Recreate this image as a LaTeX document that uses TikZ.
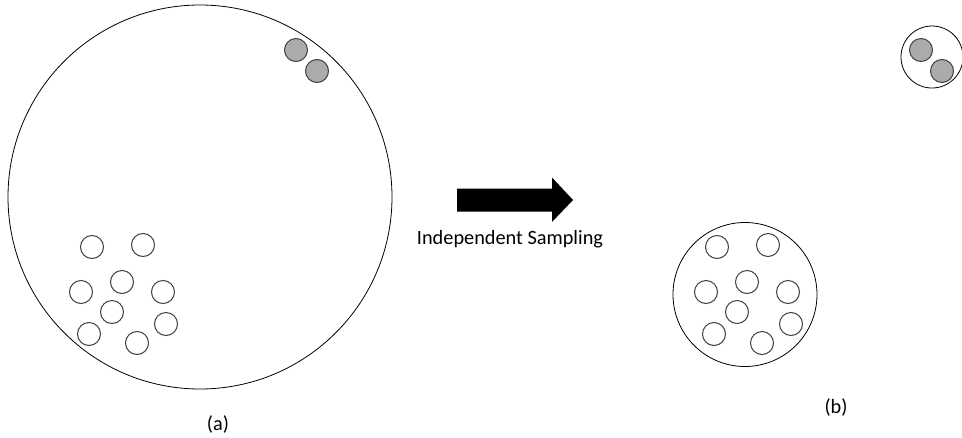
\documentclass[tikz,border=0pt]{standalone}
\usepackage{fontspec}
\setmainfont{Carlito}
\usetikzlibrary{positioning}

\definecolor{ballgray}{RGB}{171,171,171}
\definecolor{rimgray}{RGB}{64,64,64}

\tikzset{
    pool/.style={circle, draw, line width=0.8pt, inner sep=0pt},
    ball/.style={circle, draw=rimgray, line width=1pt, minimum size=23pt, inner sep=0pt, fill=white},
    grayball/.style={ball, fill=ballgray},
    caption/.style={font=\fontsize{20.3}{24}\selectfont}
}

\begin{document}
\begin{tikzpicture}[x=1pt,y=-1pt]
\useasboundingbox (0,0) rectangle (962,437);

% population and the two samples
\node[pool, minimum size=384pt] (P) at (200,197) {};
\node[pool, minimum size=144pt] (W) at (745,294.5) {};
\node[pool, minimum size=62pt] (G) at (932,57) {};

% white and gray balls, same layout in (a) and (b)
\foreach \s/\n in {0/a, 625/b}{
    \foreach \x/\y [count=\i] in {92/247, 143/245, 122/282, 81/292, 163/292,
                                  112/312, 166/324, 89/334, 137/343}
        \node[ball] (\n-w\i) at (\x+\s,\y) {};
    \foreach \x/\y [count=\i] in {296/50, 317/71}
        \node[grayball] (\n-g\i) at (\x+\s,\y) {};
}

% arrow
\coordinate (tail) at (457,200);
\coordinate (tip) at (573,200);
\fill (tail) ++(0,-11.5) -- ++(95,0) -- ++(0,-11) -- (tip)
      -- ++(-21,22) -- ++(0,-10.5) -- ++(-95,0) -- cycle;
\node[caption, anchor=base] (lbl) at (510,244) {Independent Sampling};

\node[caption] (la) at (218,424) {(a)};
\node[caption] (lb) at (836,407) {(b)};

\end{tikzpicture}
\end{document}
